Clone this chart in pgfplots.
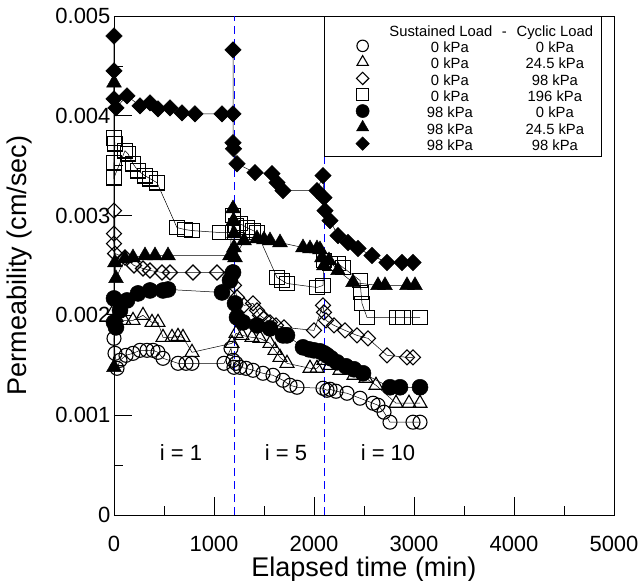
\documentclass[border=0pt]{standalone}
\usepackage{fontspec}
\setmainfont{Liberation Sans}
\usepackage{pgfplots}
\pgfplotsset{compat=1.18}

% one legend row: sustained load, cyclic load
\newcommand{\lrow}[2]{\rule[-5.5pt]{0pt}{20.3pt}\makebox[136pt][c]{#1}\makebox[74pt][c]{#2}\hspace{28pt}}

\begin{document}
\begin{tikzpicture}
\begin{axis}[
  scale only axis, width=500pt, height=499pt,
  xmin=0, xmax=5000, ymin=0, ymax=0.005,
  xtick={0,1000,2000,3000,4000,5000},
  xticklabels={0,1000,2000,3000,4000,5000},
  ytick={0,0.001,0.002,0.003,0.004,0.005},
  yticklabels={0,0.001,0.002,0.003,0.004,0.005},
  scaled y ticks=false,
  /pgf/number format/assume math mode=true,
  minor x tick num=1, minor y tick num=1,
  tick pos=left, tick align=inside,
  major tick length=18pt, minor tick length=9pt,
  tick style={black, line width=0.8pt},
  axis line style={line width=0.8pt},
  ticklabel style={font=\fontsize{22}{26}\selectfont},
  xticklabel style={yshift=-18pt},
  label style={font=\fontsize{27}{32}\selectfont},
  xlabel={Elapsed time (min)},
  ylabel={Permeability (cm/sec)},
  xlabel style={at={(axis description cs:0.5,0)}, anchor=base, yshift=-61pt},
  ylabel style={at={(axis description cs:-0.174,0.5)}, anchor=base},
  clip=false,
  every axis plot/.append style={black, line width=0.5pt},
  legend style={at={(axis cs:2100,0.005)}, anchor=north west,
    draw=black, line width=0.8pt, fill=white,
    inner xsep=0pt, inner ysep=5pt,
    font=\fontsize{14.8}{17}\selectfont,
    nodes={inner sep=0pt}, column sep=0pt, cells={anchor=center}},
  legend image code/.code={%
    \path (-38pt,0pt) (10pt,0pt);
    \draw[#1, every mark/.append style={scale=0.82}] plot coordinates {(0pt,0pt)};},
]

\addlegendimage{empty legend}
\addlegendentry{\rule[-5.5pt]{0pt}{20.3pt}\makebox[136pt][c]{Sustained Load}\llap{-\hspace{2pt}}\makebox[92pt][c]{Cyclic Load}\hspace{10pt}}

% time markers between gradient stages
\addplot[blue, dashed, line width=0.7pt, dash pattern=on 8pt off 5pt, forget plot]
  coordinates {(1200,0) (1200,0.005)};
\addplot[blue, dashed, line width=0.7pt, dash pattern=on 8pt off 5pt, forget plot]
  coordinates {(2100,0) (2100,0.005)};

% 0 kPa - 0 kPa
\addplot[mark=o, mark size=7, mark options={line width=1.1pt, solid}] coordinates {
(0,0.00177) (10,0.00162) (30,0.00147) (60,0.00155) (120,0.0016) (190,0.00162)
(260,0.00165) (330,0.00165) (390,0.00165) (440,0.00163) (490,0.00157)
(640,0.00152) (720,0.00152) (780,0.00152) (1100,0.00152) (1170,0.00167)
(1190,0.00155) (1200,0.00148) (1220,0.00152) (1260,0.00148) (1320,0.00147)
(1390,0.00145) (1490,0.00142) (1590,0.0014) (1690,0.00135) (1760,0.0013)
(1830,0.00128) (2090,0.00127) (2130,0.00125) (2160,0.00126) (2220,0.00124)
(2330,0.00122) (2460,0.00117) (2590,0.00112) (2640,0.0011) (2700,0.00103)
(2760,0.00093) (2990,0.00093) (3060,0.00093)};
\addlegendentry{\lrow{0 kPa}{0 kPa}}

% 0 kPa - 24.5 kPa
\addplot[mark=triangle, mark size=8, mark options={line width=1.1pt, solid}] coordinates {
(0,0.00205) (20,0.00198) (100,0.00195) (190,0.00195) (290,0.002) (380,0.00193)
(440,0.00193) (490,0.00178) (580,0.00178) (640,0.00179) (690,0.00178)
(780,0.00163) (1180,0.00172) (1220,0.00182) (1280,0.0018) (1380,0.00178)
(1460,0.00177) (1560,0.00172) (1610,0.00165) (1660,0.00158) (1730,0.00152)
(1960,0.00147) (2030,0.00147) (2100,0.00155) (2160,0.0015) (2260,0.00145)
(2400,0.0014) (2520,0.00137) (2620,0.0013) (2820,0.00112) (2950,0.00112)
(3060,0.00112)};
\addlegendentry{\lrow{0 kPa}{24.5 kPa}}

% 0 kPa - 98 kPa
\addplot[mark=square, mark size=5.3, mark options={line width=1.1pt, solid, rotate=45}] coordinates {
(0,0.00305) (0,0.00282) (0,0.00272) (10,0.00262) (110,0.00258) (200,0.0025)
(290,0.00247) (360,0.00245) (480,0.00243) (560,0.00243) (790,0.00243)
(1030,0.00243) (1180,0.00243) (1200,0.0023) (1230,0.00218) (1300,0.0021)
(1390,0.00212) (1430,0.00205) (1460,0.002) (1500,0.00197) (1560,0.00193)
(1620,0.0019) (1700,0.00188) (2000,0.00185) (2090,0.0021) (2100,0.00203)
(2120,0.00195) (2200,0.0019) (2310,0.00185) (2430,0.0018) (2540,0.00177)
(2730,0.0016) (2930,0.00158) (2990,0.00158)};
\addlegendentry{\lrow{0 kPa}{98 kPa}}

% 0 kPa - 196 kPa
\addplot[mark=square, mark size=7.3, mark options={line width=1.1pt, solid}] coordinates {
(0,0.00378) (10,0.00372) (0,0.00353) (0,0.00338) (110,0.00365) (140,0.00362)
(190,0.00352) (240,0.00345) (310,0.0034) (360,0.00337) (430,0.00333)
(630,0.00288) (710,0.00286) (780,0.00285) (1060,0.00283) (1190,0.00283)
(1190,0.003) (1220,0.0029) (1260,0.00292) (1330,0.00288) (1390,0.00285)
(1430,0.00283) (1630,0.00238) (1680,0.00235) (1730,0.00232) (2030,0.00228)
(2090,0.0023) (2100,0.00255) (2160,0.00252) (2240,0.00252) (2290,0.00248)
(2460,0.00235) (2470,0.00223) (2480,0.00212) (2530,0.00198) (2830,0.00198)
(2890,0.00198) (3060,0.00198)};
\addlegendentry{\lrow{0 kPa}{196 kPa}}

% 98 kPa - 0 kPa
\addplot[mark=*, mark size=8, mark options={solid}] coordinates {
(0,0.00217) (0,0.00193) (20,0.00188) (60,0.00205) (130,0.00215) (240,0.00222)
(360,0.00225) (490,0.00225) (540,0.00226) (1080,0.00223) (1160,0.00235)
(1190,0.00243) (1210,0.00212) (1230,0.00198) (1290,0.00193) (1430,0.0019)
(1560,0.00187) (1690,0.0018) (1730,0.0018) (1890,0.00168) (1950,0.00166)
(2000,0.00165) (2060,0.00164) (2100,0.00162) (2130,0.0016) (2170,0.00157)
(2230,0.00153) (2320,0.00149) (2400,0.00146) (2490,0.00142) (2760,0.00128)
(2860,0.00128) (3060,0.00128)};
\addlegendentry{\lrow{98 kPa}{0 kPa}}

% 98 kPa - 24.5 kPa
\addplot[mark=triangle*, mark size=8.5, mark options={solid}] coordinates {
(0,0.00148) (0,0.00433) (10,0.00253) (20,0.00237) (110,0.00257) (190,0.00258)
(310,0.0026) (410,0.0026) (540,0.0026) (1160,0.0026) (1190,0.00307)
(1195,0.00295) (1200,0.00282) (1200,0.00268) (1210,0.00258) (1300,0.00275)
(1430,0.00277) (1500,0.00276) (1560,0.00275) (1660,0.00273) (1890,0.00268)
(1960,0.00267) (2030,0.00267) (2060,0.00266) (2080,0.00258) (2100,0.0025)
(2150,0.00255) (2240,0.00245) (2390,0.00233) (2640,0.0023) (2710,0.0023)
(2930,0.0023) (3010,0.0023)};
\addlegendentry{\lrow{98 kPa}{24.5 kPa}}

% 98 kPa - 98 kPa
\addplot[mark=square*, mark size=5.8, mark options={solid, rotate=45}] coordinates {
(0,0.0048) (0,0.00445) (0,0.00417) (20,0.00408) (130,0.0042) (260,0.0041)
(360,0.00413) (440,0.00407) (560,0.00408) (680,0.00403) (810,0.00402)
(1080,0.00402) (1190,0.00402) (1190,0.00466) (1190,0.00373) (1195,0.00367)
(1230,0.00352) (1410,0.00343) (1580,0.00342) (1630,0.00333) (1690,0.00325)
(2030,0.00325) (2090,0.0034) (2100,0.00318) (2110,0.00305) (2160,0.00295)
(2240,0.0028) (2340,0.00273) (2440,0.00267) (2580,0.0026) (2730,0.00253)
(2880,0.00253) (2990,0.00253)};
\addlegendentry{\lrow{98 kPa}{98 kPa}}

\node[anchor=base, font=\fontsize{22}{26}\selectfont] at (axis cs:670,0.00055) {i = 1};
\node[anchor=base, font=\fontsize{22}{26}\selectfont] at (axis cs:1720,0.00055) {i = 5};
\node[anchor=base, font=\fontsize{22}{26}\selectfont] at (axis cs:2740,0.00055) {i = 10};
\end{axis}
\pgfresetboundingbox
\path[use as bounding box] (-114pt,-66pt) rectangle (526pt,515pt);
\end{tikzpicture}
\end{document}
